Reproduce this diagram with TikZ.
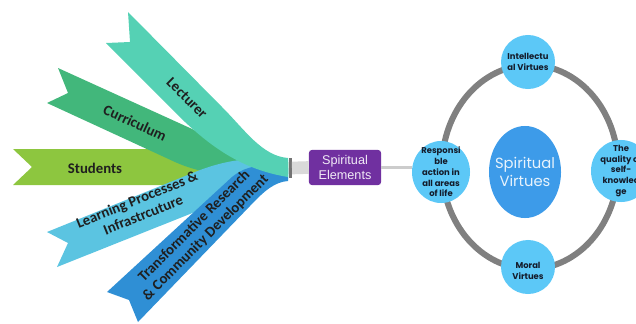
\documentclass[tikz,border=0pt]{standalone}
\usepackage{fontspec}
\setmainfont{Liberation Sans}
\newfontfamily\ribbonfont{Carlito}
\newfontfamily\roundfont{Poppins}
\usetikzlibrary{shapes.geometric}
\definecolor{studentsgreen}{HTML}{8DC63F}
\definecolor{curricgreen}{HTML}{42B77B}
\definecolor{lectteal}{HTML}{55D1B4}
\definecolor{learnblue}{HTML}{5BC4E1}
\definecolor{transblue}{HTML}{2F8FD5}
\definecolor{elempurple}{HTML}{7030A0}
\definecolor{bubblue}{HTML}{5CC8F7}
\definecolor{coreblue}{HTML}{3D9BE9}
\definecolor{ringgrey}{HTML}{808080}
\definecolor{darktext}{HTML}{141C2B}
\tikzset{
	ribbontext/.style={font=\ribbonfont\bfseries\fontsize{10.5}{11.5}\selectfont, text=black!88, align=center, inner sep=0pt},
	bubble/.style={ellipse, fill=bubblue, inner sep=0pt, outer sep=0pt},
	bubbletext/.style={font=\roundfont\bfseries\fontsize{6}{7.6}\selectfont, text=darktext, align=center, inner sep=0pt},
	elembox/.style={rectangle, rounded corners=2pt, fill=elempurple, text=white!90!elempurple, font=\fontsize{9}{10.5}\selectfont, align=center, minimum width=1.8cm, minimum height=0.875cm, inner sep=0pt},
	hubbar/.style={rectangle, fill=black!55, minimum width=0.075cm, minimum height=0.5cm, inner sep=0pt, outer sep=0pt},
	stub/.style={line width=9pt, draw=black!15},
	link/.style={line width=2pt, draw=black!20},
	ringline/.style={ellipse, draw=ringgrey, line width=4.3pt, minimum width=4.4cm, minimum height=5.1cm, inner sep=0pt}
}
\begin{document}
\begin{tikzpicture}[x=0.025cm, y=-0.025cm]
	\clip (0,0) rectangle (636,323);
	\fill[studentsgreen] (13,149) -- (32,167) -- (13,185) -- (180,185) .. controls (235,185) and (260,176) .. (288,174) -- (288,162) .. controls (255,158) and (225,149) .. (185,149) -- cycle;
	\fill[curricgreen] (58,68) -- (68,93) -- (47,103) -- (175,162) .. controls (215,180) and (255,175) .. (288,174) -- (288,162) .. controls (260,160) and (230,147) .. (190,128) -- cycle;
	\fill[learnblue] (47,232) -- (68,243) -- (57,267) -- (200,210) .. controls (240,194) and (265,181) .. (288,179) -- (288,160) .. controls (262,158) and (235,156) .. (195,172) -- cycle;
	\fill[transblue] (107,292) -- (129,300) -- (138,322) -- (250,206) .. controls (265,190) and (275,182) .. (288,181) -- (288,168) .. controls (268,166) and (250,162) .. (232,177) -- cycle;
	\fill[lectteal] (128,12) -- (130,42) -- (106,43) -- (185,122) .. controls (215,150) and (245,170) .. (288,177) -- (288,158) .. controls (262,156) and (245,130) .. (222,107) -- cycle;
	\node[ribbontext] (students) at (95,168) {Students};
	\node[ribbontext, rotate=-25] (curriculum) at (135,123) {Curriculum};
	\node[ribbontext, rotate=-45] (lecturer) at (187,98) {Lecturer};
	\node[ribbontext, rotate=22] (learning) at (140,207) {Learning Processes \&\\Infrastrcuture};
	\node[ribbontext, rotate=45] (transform) at (200,232) {Transformative Research\\\& Community Development};
	\node[hubbar] (hub) at (290.5,168) {};
	\node[elembox] (elem) at (345,167.5) {Spiritual\\Elements};
	\draw[stub] (hub.east) -- (elem.west);
	\node[ringline] (ring) at (530,167) {};
	\node[bubble, minimum width=1.45cm, minimum height=1.55cm] (resp) at (441,172) {};
	\draw[link] (elem.east) -- (elem.east -| resp.west);
	\node[bubble, minimum width=1.35cm, minimum height=1.35cm] (intel) at (528,62) {};
	\node[bubble, minimum width=1.5cm, minimum height=1.55cm] (self) at (621,171) {};
	\node[bubble, minimum width=1.35cm, minimum height=1.35cm] (moral) at (528,267) {};
	\node[ellipse, fill=coreblue, minimum width=1.8cm, minimum height=2.3cm, inner sep=0pt] (core) at (525,172) {};
	\node[bubbletext] at (resp) {Responsi\\ble\\action in\\all areas\\of life};
	\node[bubbletext] at (intel) {Intellectu\\al Virtues};
	\node[bubbletext] at (self) {The\\quality of\\self-\\knowled\\ge};
	\node[bubbletext] at ([yshift=-3]moral.center) {Moral\\Virtues};
	\node[font=\roundfont\fontsize{10.5}{13}\selectfont, text=white!88!coreblue, align=center, inner sep=0pt] at (core) {Spiritual\\Virtues};
\end{tikzpicture}
\end{document}
